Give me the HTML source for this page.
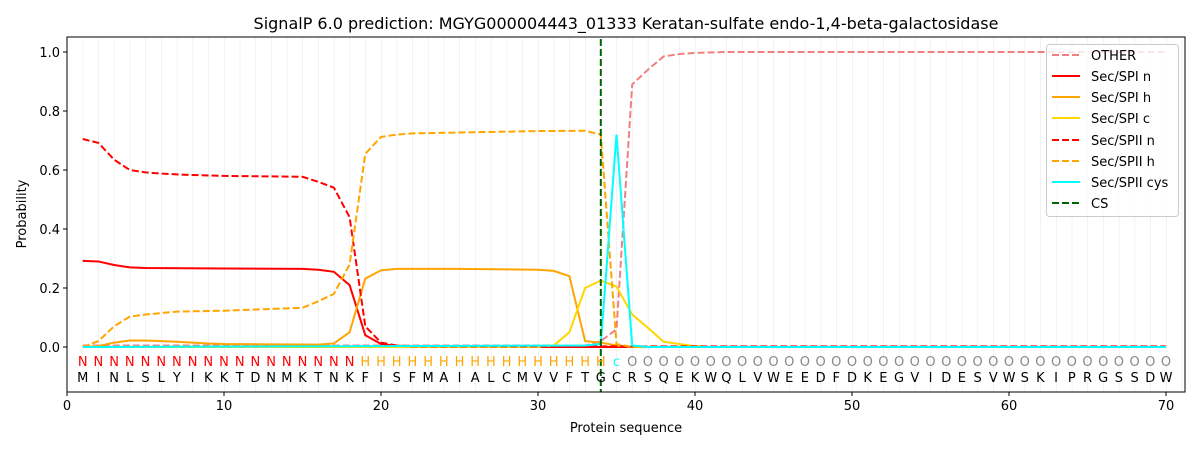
<!DOCTYPE html>
<html><head><style>
html,body{margin:0;padding:0;background:#fff;}
svg{display:block;font-family:"DejaVu Sans","Liberation Sans",sans-serif;}
</style></head><body>
<svg width="1200" height="450" viewBox="0 0 1200 450" xmlns="http://www.w3.org/2000/svg">
<defs>
<pattern id="g" x="67" y="0" width="15.7" height="450" patternUnits="userSpaceOnUse">
<line x1="0" y1="0" x2="0" y2="450" stroke="#e6e6e6" stroke-width="1"/>
</pattern>
<clipPath id="c"><rect x="67" y="37" width="1118" height="355"/></clipPath>
</defs>
<rect x="67" y="37" width="1118" height="355" fill="url(#g)"/>
<rect x="67" y="37" width="2" height="355" fill="#fff"/>
<g clip-path="url(#c)">
<g transform="translate(67,347) scale(15.7,-295)" fill="none" stroke-width="2">
<polyline vector-effect="non-scaling-stroke" stroke="#f08080" stroke-dasharray="7,3" points="1,0.005 10,0.005 20,0.005 33,0.005 34,0.02 35,0.06 36,0.89 37,0.94 38,0.985 39,0.993 40,0.997 42,1 70,1"/>
<polyline vector-effect="non-scaling-stroke" stroke="#ff0000" points="1,0.292 2,0.29 3,0.278 4,0.27 5,0.268 10,0.266 15,0.265 16,0.262 17,0.255 18,0.21 19,0.04 20,0.01 21,0.003 22,0 70,0"/>
<polyline vector-effect="non-scaling-stroke" stroke="#ffa500" points="1,0 2,0.003 3,0.015 4,0.022 5,0.022 6,0.02 7,0.018 8,0.015 9,0.012 10,0.01 16,0.008 17,0.012 18,0.05 19,0.232 20,0.26 21,0.265 25,0.265 30,0.262 31,0.258 32,0.24 33,0.02 34,0.015 35,0.005 36,0 70,0"/>
<polyline vector-effect="non-scaling-stroke" stroke="#ffd700" points="1,0 30,0 31,0.005 32,0.05 33,0.2 34,0.225 35,0.205 36,0.11 37,0.065 38,0.018 39,0.01 40,0.003 41,0 70,0"/>
<polyline vector-effect="non-scaling-stroke" stroke="#ff0000" stroke-dasharray="7,3" points="1,0.705 2,0.692 3,0.635 4,0.6 5,0.592 6,0.588 7,0.585 8,0.583 10,0.58 15,0.577 16,0.56 17,0.54 18,0.44 19,0.07 20,0.015 21,0.005 22,0.002 70,0.002"/>
<polyline vector-effect="non-scaling-stroke" stroke="#ffa500" stroke-dasharray="7,3" points="1,0 2,0.02 3,0.07 4,0.103 5,0.11 6,0.115 7,0.12 10,0.123 15,0.133 16,0.155 17,0.18 18,0.28 19,0.655 20,0.712 21,0.72 22,0.724 30,0.732 33,0.733 34,0.72 35,0.01 36,0 70,0"/>
<polyline vector-effect="non-scaling-stroke" stroke="#00ffff" points="1,0 33,0.005 34,0.01 35,0.72 36,0.005 37,0 70,0"/>
<line vector-effect="non-scaling-stroke" stroke="#006400" stroke-dasharray="7,3" x1="34" y1="-0.2" x2="34" y2="1.1"/>
</g>
</g>
<g font-size="13" text-anchor="middle">
<text y="366" fill="#ff0000" x="82.7 98.4 114.1 129.8 145.5 161.2 176.9 192.6 208.3 224 239.7 255.4 271.1 286.8 302.5 318.2 333.9 349.6">NNNNNNNNNNNNNNNNNN</text>
<text y="366" fill="#ffa500" x="365.3 381 396.7 412.4 428.1 443.8 459.5 475.2 490.9 506.6 522.3 538 553.7 569.4 585.1 600.8">HHHHHHHHHHHHHHHH</text>
<text y="366" fill="#00ffff" x="616.5">c</text>
<text y="366" fill="#888" x="632.2 647.9 663.6 679.3 695 710.7 726.4 742.1 757.8 773.5 789.2 804.9 820.6 836.3 852 867.7 883.4 899.1 914.8 930.5 946.2 961.9 977.6 993.3 1009 1024.7 1040.4 1056.1 1071.8 1087.5 1103.2 1118.9 1134.6 1150.3 1166">OOOOOOOOOOOOOOOOOOOOOOOOOOOOOOOOOOO</text>
<text y="382" fill="#000" x="82.7 98.4 114.1 129.8 145.5 161.2 176.9 192.6 208.3 224 239.7 255.4 271.1 286.8 302.5 318.2 333.9 349.6 365.3 381 396.7 412.4 428.1 443.8 459.5 475.2 490.9 506.6 522.3 538 553.7 569.4 585.1 600.8 616.5 632.2 647.9 663.6 679.3 695 710.7 726.4 742.1 757.8 773.5 789.2 804.9 820.6 836.3 852 867.7 883.4 899.1 914.8 930.5 946.2 961.9 977.6 993.3 1009 1024.7 1040.4 1056.1 1071.8 1087.5 1103.2 1118.9 1134.6 1150.3 1166">MINLSLYIKKTDNMKTNKFISFMAIALCMVVFTGCRSQEKWQLVWEEDFDKEGVIDESVWSKIPRGSSDW</text>
</g>
<rect x="67" y="37" width="1118" height="355" fill="none" stroke="#000" stroke-width="1"/>
<g stroke="#000" stroke-width="1">
<line x1="67" y1="392" x2="67" y2="396"/><line x1="224" y1="392" x2="224" y2="396"/><line x1="381" y1="392" x2="381" y2="396"/><line x1="538" y1="392" x2="538" y2="396"/><line x1="695" y1="392" x2="695" y2="396"/><line x1="852" y1="392" x2="852" y2="396"/><line x1="1009" y1="392" x2="1009" y2="396"/><line x1="1166" y1="392" x2="1166" y2="396"/>
<line x1="63" y1="347" x2="67" y2="347"/><line x1="63" y1="288" x2="67" y2="288"/><line x1="63" y1="229" x2="67" y2="229"/><line x1="63" y1="170" x2="67" y2="170"/><line x1="63" y1="111" x2="67" y2="111"/><line x1="63" y1="52" x2="67" y2="52"/>
</g>
<g font-size="13" fill="#000">
<g text-anchor="middle">
<text x="67" y="410">0</text><text x="224" y="410">10</text><text x="381" y="410">20</text><text x="538" y="410">30</text><text x="695" y="410">40</text><text x="852" y="410">50</text><text x="1009" y="410">60</text><text x="1166" y="410">70</text>
<text x="626" y="432">Protein sequence</text>
<text x="626" y="29" font-size="16">SignalP 6.0 prediction: MGYG000004443_01333 Keratan-sulfate endo-1,4-beta-galactosidase</text>
</g>
<g text-anchor="end">
<text x="60" y="352">0.0</text><text x="60" y="293">0.2</text><text x="60" y="234">0.4</text><text x="60" y="175">0.6</text><text x="60" y="116">0.8</text><text x="60" y="57">1.0</text>
</g>
<text transform="translate(26,214) rotate(-90)" text-anchor="middle">Probability</text>
</g>
<rect x="1046.5" y="44.5" width="132" height="172" rx="3" fill="#fff" fill-opacity="0.8" stroke="#ccc"/>
<g stroke-width="2">
<line x1="1052" y1="55" x2="1080" y2="55" stroke="#f08080" stroke-dasharray="7,3"/>
<line x1="1052" y1="76" x2="1080" y2="76" stroke="#ff0000"/>
<line x1="1052" y1="97" x2="1080" y2="97" stroke="#ffa500"/>
<line x1="1052" y1="118" x2="1080" y2="118" stroke="#ffd700"/>
<line x1="1052" y1="140" x2="1080" y2="140" stroke="#ff0000" stroke-dasharray="7,3"/>
<line x1="1052" y1="161" x2="1080" y2="161" stroke="#ffa500" stroke-dasharray="7,3"/>
<line x1="1052" y1="182" x2="1080" y2="182" stroke="#00ffff"/>
<line x1="1052" y1="203" x2="1080" y2="203" stroke="#006400" stroke-dasharray="7,3"/>
</g>
<g font-size="13" fill="#000">
<text x="1091" y="60">OTHER</text>
<text x="1091" y="81">Sec/SPI n</text>
<text x="1091" y="102">Sec/SPI h</text>
<text x="1091" y="123">Sec/SPI c</text>
<text x="1091" y="145">Sec/SPII n</text>
<text x="1091" y="166">Sec/SPII h</text>
<text x="1091" y="187">Sec/SPII cys</text>
<text x="1091" y="208">CS</text>
</g>
</svg>
</body></html>
